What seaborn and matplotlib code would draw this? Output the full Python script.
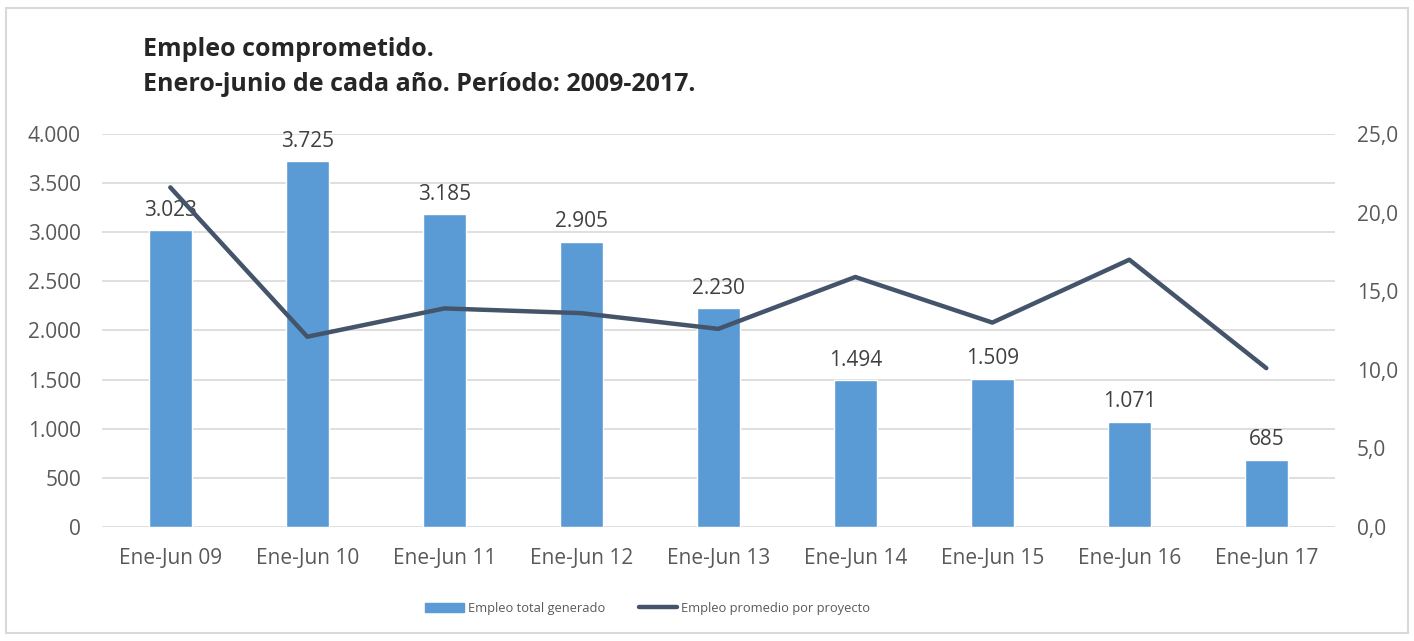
import matplotlib
matplotlib.use('Agg')
import matplotlib.pyplot as plt
import matplotlib.patches as mpatches
from matplotlib.lines import Line2D
import seaborn as sns
import pandas as pd

periods = ['Ene-Jun 09', 'Ene-Jun 10', 'Ene-Jun 11', 'Ene-Jun 12', 'Ene-Jun 13',
           'Ene-Jun 14', 'Ene-Jun 15', 'Ene-Jun 16', 'Ene-Jun 17']
empleo_total = [3023, 3725, 3185, 2905, 2230, 1494, 1509, 1071, 685]
empleo_promedio = [21.6, 12.1, 13.9, 13.6, 12.6, 15.9, 13.0, 17.0, 10.1]

left_ticks = [0, 500, 1000, 1500, 2000, 2500, 3000, 3500, 4000]
right_ticks = [0, 5, 10, 15, 20, 25]

BAR_COLOR = '#5b9bd5'
LINE_COLOR = '#44546a'
TEXT_COLOR = '#595959'

sns.set_style('white')
plt.rcParams['font.family'] = ['Open Sans', 'DejaVu Sans']


def fmt_miles(v):
    return f'{v:,.0f}'.replace(',', '.')


df = pd.DataFrame({'periodo': periods, 'total': empleo_total,
                   'promedio': empleo_promedio, 'pos': range(len(periods))})

fig = plt.figure(figsize=(14.14, 6.41), dpi=100)
ax = fig.add_axes([0.072, 0.178, 0.872, 0.613])

sns.barplot(data=df, x='periodo', y='total', color=BAR_COLOR, width=0.31,
            saturation=1, ax=ax)
for i, v in enumerate(empleo_total):
    ax.text(i, v + 95, fmt_miles(v), ha='center', va='bottom', fontsize=15, color='#404040')

ax.set_ylim(0, 4000)
ax.set_yticks(left_ticks)
ax.set_yticklabels([fmt_miles(t) for t in left_ticks])
ax.set_xlim(-0.5, len(periods) - 0.5)
ax.grid(axis='y', color='#d9d9d9', linewidth=1.2)
ax.set_axisbelow(True)
ax.set_xlabel('')
ax.set_ylabel('')
ax.tick_params(axis='both', labelsize=15, labelcolor=TEXT_COLOR, length=0)
ax.tick_params(axis='x', pad=15)
ax.tick_params(axis='y', pad=15)
for s in ax.spines.values():
    s.set_visible(False)

ax2 = ax.twinx()
sns.lineplot(data=df, x='pos', y='promedio', color=LINE_COLOR, linewidth=3.2, ax=ax2)
ax2.set_ylim(0, 25)
ax2.set_yticks(right_ticks)
ax2.set_yticklabels([f'{t:.1f}'.replace('.', ',') for t in right_ticks])
ax2.set_ylabel('')
ax2.tick_params(axis='y', labelsize=15, labelcolor=TEXT_COLOR, length=0, pad=16)
for s in ax2.spines.values():
    s.set_visible(False)
ax2.grid(False)

fig.text(0.101, 0.942, 'Empleo comprometido.\nEnero-junio de cada año. Período: 2009-2017.',
         ha='left', va='top', fontsize=18, fontweight='bold', color='#262626', linespacing=1.5)

handles = [mpatches.Patch(color=BAR_COLOR, label='Empleo total generado'),
           Line2D([0], [0], color=LINE_COLOR, linewidth=3.2, label='Empleo promedio por proyecto')]
fig.legend(handles=handles, loc='center', bbox_to_anchor=(0.458, 0.051), ncol=2,
           frameon=False, fontsize=9.3, labelcolor=TEXT_COLOR, columnspacing=2.6,
           handlelength=3.0, handletextpad=0.3)

fig.patches.append(mpatches.Rectangle((0.004, 0.012), 0.992, 0.975, transform=fig.transFigure,
                                      fill=False, edgecolor='#d9d9d9', linewidth=1.5))

fig.savefig('out.png', dpi=100)
